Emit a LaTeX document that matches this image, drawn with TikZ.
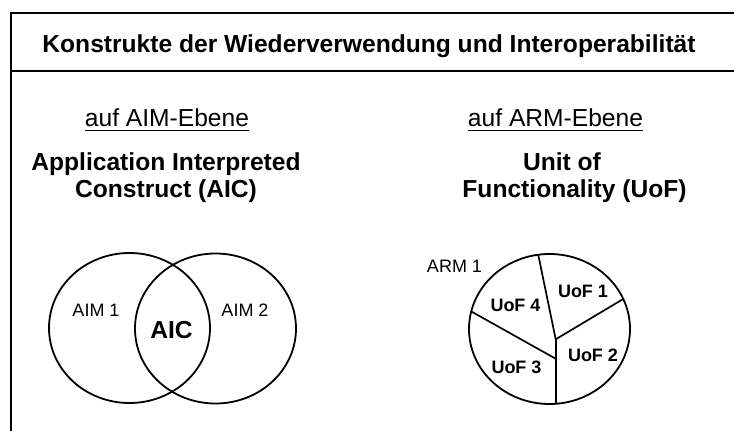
\documentclass[tikz,border=0pt]{standalone}
\usepackage{fontspec}
\setmainfont{Liberation Sans}
\tikzset{
  txt/.style={inner sep=0pt, outer sep=0pt, anchor=base},
  big/.style={txt, font=\fontsize{24.6}{28}\selectfont},
  bigb/.style={txt, font=\fontsize{24.6}{28}\selectfont\bfseries},
  small/.style={txt, font=\fontsize{18}{21}\selectfont},
  smallb/.style={txt, font=\fontsize{18}{21}\selectfont\bfseries},
  frame/.style={line width=2pt},
  outl/.style={line width=1.8pt},
  divline/.style={line width=1.7pt},
}
\begin{document}
\begin{tikzpicture}[x=1pt,y=-1pt]
\useasboundingbox (0,0) rectangle (734,431);
% frame
\coordinate (tl) at (10.5,13);
\coordinate (tr) at (734,13);
\coordinate (dl) at (10.5,71);
\coordinate (dr) at (734,71);
\coordinate (bl) at (10.5,431);
\draw[frame] (tr) -- (tl) -- (bl);
\draw[frame] (dl) -- (dr);
% title
\node[bigb] (title) at (369,52) {Konstrukte der Wiederverwendung und Interoperabilität};
% column heads
\node[big] (aim) at (167,126.7) {auf AIM-Ebene};
\draw[line width=1.3pt] ([yshift=-3.5pt]aim.base west) -- ([yshift=-3.5pt]aim.base east);
\node[big] (arm) at (555.5,126.7) {auf ARM-Ebene};
\draw[line width=1.3pt] ([yshift=-3.5pt]arm.base west) -- ([yshift=-3.5pt]arm.base east);
\node[bigb] (aic1) at (166,170) {Application Interpreted};
\node[bigb] (aic2) at (166,197) {Construct (AIC)};
\node[bigb] (uof1) at (562,170) {Unit of};
\node[bigb] (uof2) at (574.5,197) {Functionality (UoF)};
% Venn diagram
\coordinate (c1) at (129.5,328);
\coordinate (c2) at (215.5,328.5);
\draw[outl] (c1) ellipse [x radius=80.5, y radius=75];
\draw[outl] (c2) ellipse [x radius=80.5, y radius=75];
\node[small] (aim1) at (96,316.5) {AIM 1};
\node[small] (aim2) at (245,316.5) {AIM 2};
\node[bigb] (aicl) at (171.5,338) {AIC};
% pie
\coordinate (pc) at (549.5,329);
\draw[outl] (pc) ellipse [x radius=80.5, y radius=75];
\coordinate (p1) at (538.3,255);
\coordinate (m1) at (555.7,339.3);
\coordinate (p2) at (622.7,299.3);
\coordinate (m2) at (556,340);
\coordinate (p4) at (556,404);
\coordinate (p3) at (471.7,311.7);
\coordinate (m3) at (556.7,359.3);
\draw[divline] (p1) -- (m1) -- (p2);
\draw[divline] (m2) -- (p4);
\draw[divline] (p3) -- (m3);
\node[small] (arm1) at (454.5,272.5) {ARM 1};
\node[smallb] (u1) at (583,297) {UoF 1};
\node[smallb] (u4) at (515.5,311) {UoF 4};
\node[smallb] (u2) at (593,361.7) {UoF 2};
\node[smallb] (u3) at (516.5,373) {UoF 3};
\end{tikzpicture}
\end{document}
